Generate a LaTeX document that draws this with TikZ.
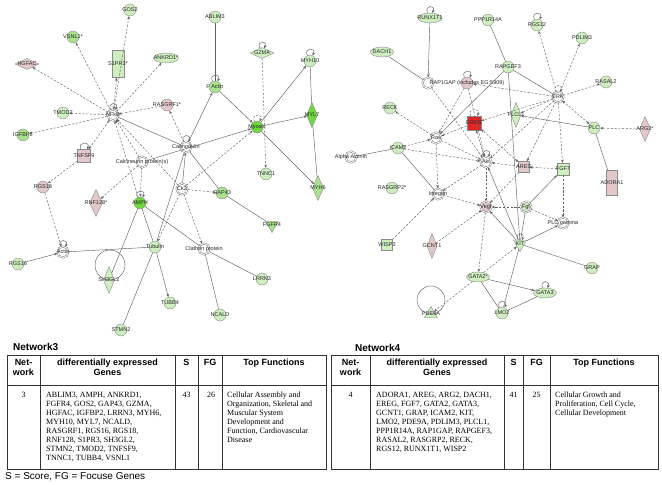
\documentclass[tikz,border=0pt]{standalone}
\usepackage{fontspec}
\setmainfont{Liberation Serif}
\setsansfont{Liberation Sans}
\usepackage{tikz}
\usetikzlibrary{arrows.meta,shapes.geometric}
\definecolor{lgreen}{RGB}{206,238,192}
\definecolor{mgreen}{RGB}{168,226,140}
\definecolor{bgreen}{RGB}{112,216,62}
\definecolor{lpink}{RGB}{226,200,200}
\definecolor{hired}{RGB}{226,38,38}
\colorlet{edgec}{black!62}

\begin{document}
\begin{tikzpicture}[x=1pt, y=-1pt,
    lbl/.style={font=\sffamily\fontsize{5.5}{6}\selectfont, text=black!85, inner sep=0pt},
    txt/.style={label={[lbl]center:#1}},
    base/.style={draw=black!45, line width=0.4pt, inner sep=0pt},
    gn/.style={base, circle, minimum size=12pt, fill=lgreen},
    cx/.style={base, circle, minimum size=11pt, draw=black!60, double=white,
               double distance=0.9pt, fill=white},
    elp/.style={base, ellipse, minimum width=23pt, minimum height=10pt, fill=lgreen},
    dmw/.style={base, diamond, minimum width=24pt, minimum height=11pt, fill=lgreen},
    dmt/.style={base, diamond, minimum width=11pt, minimum height=25pt, fill=lgreen},
    sqr/.style={base, rectangle, minimum size=12pt, fill=lgreen},
    tri/.style={base, regular polygon, regular polygon sides=3, minimum size=15pt, fill=lgreen},
    ln/.style={draw=edgec, line width=0.45pt},
    dl/.style={ln, dash pattern=on 2.2pt off 1.6pt},
    ar/.style={-{Stealth[length=3.2pt, width=2.6pt]}},
    ba/.style={{Stealth[length=3.2pt, width=2.6pt]}-{Stealth[length=3.2pt, width=2.6pt]}},
    sl/.style={ln, ar, out=115, in=65, min distance=9pt, max distance=9pt},
    ttl/.style={font=\sffamily\bfseries\fontsize{10}{12}\selectfont, inner sep=0pt, anchor=west},
    hd/.style={font=\sffamily\bfseries\fontsize{9}{10}\selectfont, align=center, anchor=north, inner sep=0pt},
    bd/.style={font=\fontsize{8}{9}\selectfont, align=left, inner sep=0pt},
    tbl/.style={draw=black!80, line width=0.6pt}
  ]
  \useasboundingbox (0,0) rectangle (662,485);

  % network 3
  \node[gn, txt=GOS2] (gos2) at (130,10) {};
  \node[gn, fill=mgreen, txt=VSNL1*] (vsnl1) at (73,37) {};
  \node[sqr, minimum width=12pt, minimum height=27pt, txt=S1PR3*] (s1pr3) at (118,64) {};
  \node[dmw, fill=lpink, txt=HGFAC] (hgfac) at (27,64) {};
  \node[elp, minimum width=25pt, txt=ANKRD1*] (ankrd1) at (166,58) {};
  \node[gn, txt=TMOD2] (tmod2) at (63,113) {};
  \node[gn, fill=mgreen, txt=IGFBP2] (igfbp2) at (23,135) {};
  \node[cx, txt=NFkB] (nfkb) at (113,115) {};
  \node[gn, fill=lpink, txt=RASGRF1*] (rasgrf1) at (167,105) {};
  \node[sqr, fill=lpink, minimum size=13pt, txt=TNFSF9] (tnfsf9) at (84,156) {};
  \node[gn, txt=ABLIM3] (ablim3) at (215,17) {};
  \node[gn, fill=mgreen, txt=F Actin] (factin) at (215,87) {};
  \node[dmw, txt=GZMA] (gzma) at (262,53) {};
  \node[gn, txt=MYH10] (myh10) at (310,61) {};
  \node[dmt, fill=bgreen, txt=MYL7] (myl7) at (312,115) {};
  \node[gn, fill=bgreen, txt=Myosin] (myosin) at (257,127) {};
  \node[cx, txt=Calmodulin] (calm) at (186,147) {};
  \node[cx, txt=Calcineurin protein(s)] (calcin) at (142,162) {};
  \node[cx, txt=Ck2] (ck2) at (182,189) {};
  \node[gn, fill=mgreen, txt=GAP43] (gap43) at (222,193) {};
  \node[gn, fill=bgreen, txt=AMPH] (amph) at (140,203) {};
  \node[dmt, fill=lpink, minimum width=13pt, minimum height=27pt, txt=RNF128*] (rnf128) at (96,203) {};
  \node[gn, fill=lpink, txt=RGS18] (rgs18) at (43,187) {};
  \node[cx, txt=Actin] (actin) at (63,252) {};
  \node[gn, txt=RGS16] (rgs16) at (18,264) {};
  \node[gn, txt=Tubulin] (tubulin) at (155,247) {};
  \node[dmt, minimum height=27pt, txt=SH3GL2] (sh3gl2) at (109,280) {};
  \node[gn, txt=TUBB4] (tubb4) at (170,303) {};
  \node[gn, txt=TNNC1] (tnnc1) at (266,174) {};
  \node[dmt, fill=mgreen, txt=MYH6] (myh6) at (318,188) {};
  \node[tri, fill=mgreen, shape border rotate=180, txt=FGFR4] (fgfr4) at (272,225) {};
  \node[cx, txt=Clathrin protein] (clath) at (204,249) {};
  \node[gn, txt=LRRN3] (lrrn3) at (262,279) {};
  \node[gn, txt=NCALD] (ncald) at (220,315) {};
  \node[gn, txt=STMN2] (stmn2) at (121,330) {};

  \foreach \a/\b in {calm/factin, factin/myosin, calcin/myosin, myosin/myh10,
      myosin/myl7, myosin/myh6, rgs16/actin, tubulin/tubb4, ck2/calm}
    \draw[ln, ar] (\a) -- (\b);
  \foreach \a/\b in {ablim3/factin, myh10/myl7, myl7/myh6, amph/sh3gl2, amph/tubulin,
      amph/clath, clath/lrrn3, actin/tubulin, calm/tubulin, tubulin/stmn2,
      gap43/fgfr4, clath/ncald, calm/gap43, nfkb/calm}
    \draw[ln] (\a) -- (\b);
  \foreach \a/\b in {nfkb/gos2, nfkb/vsnl1, nfkb/hgfac, nfkb/ankrd1, nfkb/tmod2,
      nfkb/igfbp2, rasgrf1/nfkb, tnfsf9/rgs18, rgs18/actin, calm/rasgrf1,
      calcin/nfkb, ck2/nfkb, amph/nfkb, calcin/rnf128, calcin/amph, ck2/gap43,
      ck2/clath, ck2/myosin, gzma/tnnc1, ck2/tubulin}
    \draw[dl, ar] (\a) -- (\b);
  \foreach \a/\b in {nfkb/tnfsf9, s1pr3/nfkb}
    \draw[dl, ba] (\a) -- (\b);

  % network 4
  \node[elp, minimum width=24pt, txt=RUNX1T1] (runx) at (430,18) {};
  \node[elp, txt=DACH1] (dach1) at (382,52) {};
  \node[gn, txt=PPP1R14A] (ppp1) at (488,20) {};
  \node[gn, txt=RGS12] (rgs12) at (537,25) {};
  \node[gn, txt=PDLIM3] (pdlim3) at (582,38) {};
  \node[gn, txt=RAPGEF3] (rapgef3) at (508,67) {};
  \node[gn, txt=RASAL2] (rasal2) at (606,82) {};
  \node[cx] (raps) at (428,83) {};
  \node[gn, fill=lpink, txt=RAP1GAP (includes EG:5909)] (rap1gap) at (467,83) {};
  \node[cx, txt=ERK] (erk) at (558,97) {};
  \node[gn, txt=RECK] (reck) at (390,108) {};
  \node[sqr, fill=hired, minimum size=14pt, txt=EREG] (ereg) at (474,123) {};
  \node[dmt, minimum width=10pt, txt=PLCL1] (plcl1) at (516,115) {};
  \node[gn, txt=PLC] (plc) at (594,128) {};
  \node[dmt, fill=lpink, txt=ARG2*] (arg2) at (645,129) {};
  \node[cx, txt=Ras] (ras) at (436,138) {};
  \node[gn, txt=ICAM2] (icam2) at (398,148) {};
  \node[cx, txt=Alpha Actinin] (alpha) at (351,157) {};
  \node[cx, txt=Akt] (akt) at (486,162) {};
  \node[sqr, fill=lpink, minimum size=11pt, txt=AREG] (areg) at (524,167) {};
  \node[sqr, txt=FGF7] (fgf7) at (563,169) {};
  \node[sqr, fill=lpink, minimum width=11pt, minimum height=25pt, txt=ADORA1] (adora1) at (612,183) {};
  \node[gn, txt=RASGRP2*] (rasgrp2) at (392,188) {};
  \node[cx, txt=Integrin] (integ) at (438,194) {};
  \node[cx, fill=lpink, txt=Vegf] (vegf) at (486,207) {};
  \node[cx, fill=lgreen, txt=Fgf] (fgf) at (526,207) {};
  \node[cx, txt=PLC gamma] (plcg) at (563,223) {};
  \node[tri, shape border rotate=180, txt=KIT] (kit) at (520,244) {};
  \node[sqr, minimum size=11pt, txt=WISP2] (wisp2) at (387,245) {};
  \node[dmt, fill=lpink, minimum width=10pt, txt=GCNT1] (gcnt1) at (432,246) {};
  \node[gn, txt=GRAP] (grap) at (592,268) {};
  \node[elp, txt=GATA2*] (gata2) at (478,277) {};
  \node[elp, txt=GATA3] (gata3) at (545,293) {};
  \node[gn, txt=LMO2] (lmo2) at (502,313) {};
  \node[tri, txt=PDE9A] (pde9a) at (431,314) {};

  \foreach \a/\b in {runx/raps, rapgef3/ras, plc/plcl1, fgf/fgf7, kit/plcg,
      gata2/gata3, kit/vegf, kit/akt}
    \draw[ln, ar] (\a) -- (\b);
  \foreach \a/\b in {dach1/raps, ppp1/rapgef3, rapgef3/erk, rapgef3/kit, adora1/plc,
      alpha/icam2, icam2/integ, kit/grap, lmo2/kit, lmo2/gata3, gata2/lmo2, fgf/kit}
    \draw[ln] (\a) -- (\b);
  \foreach \a/\b in {erk/rgs12, erk/pdlim3, erk/rasal2, erk/rap1gap, erk/plcl1,
      arg2/plc, erk/ereg, erk/areg, erk/fgf7, rap1gap/ras, rap1gap/akt, ereg/ras,
      areg/akt, ras/reck, ras/integ, ras/akt, icam2/ras, icam2/akt, akt/integ,
      integ/vegf, akt/vegf, wisp2/integ, gcnt1/vegf, vegf/gata2, gata2/pde9a,
      fgf7/plcg, fgf/plcg, fgf/vegf, fgf7/areg, areg/vegf, gata2/kit, raps/akt, erk/akt}
    \draw[dl, ar] (\a) -- (\b);
  \foreach \a/\b in {plc/erk, ereg/akt, areg/ereg}
    \draw[dl, ba] (\a) -- (\b);

  % self loops
  \foreach \n in {nfkb, calm, tnfsf9, actin, factin, gzma, myh10, amph,
      runx, rap1gap, rgs12, kit, gata3, lmo2, akt}
    \draw[sl] (\n) to (\n);
  \foreach \n in {myosin, ereg, erk}
    \draw[sl, dash pattern=on 2pt off 1.5pt] (\n) to (\n);
  \draw[ln] (110,265) circle[radius=15pt];
  \draw[ln] (431,300) circle[radius=14pt];

  % table network 3
  \node[ttl] (t3) at (13,347) {Network3};
  \draw[tbl] (7,355) rectangle (326,469);
  \draw[tbl] (7,385) -- (326,385);
  \foreach \x in {40,175,198,222}
    \draw[tbl] (\x,355) -- (\x,469);
  \node[hd] (h3a) at (23.5,359) {Net-\\work};
  \node[hd] (h3b) at (107.5,359) {differentially expressed\\Genes};
  \node[hd] (h3c) at (186.5,359) {S};
  \node[hd] (h3d) at (210,359) {FG};
  \node[hd] (h3e) at (274,359) {Top Functions};
  \node[bd, anchor=north] (b3a) at (23.5,392) {3};
  \node[bd, anchor=north west] (b3b) at (46,392)
    {ABLIM3, AMPH, ANKRD1,\\ FGFR4, GOS2, GAP43, GZMA,\\ HGFAC, IGFBP2, LRRN3, MYH6,\\
     MYH10, MYL7, NCALD,\\ RASGRF1, RGS16, RGS18,\\ RNF128, S1PR3, SH3GL2,\\
     STMN2, TMOD2, TNFSF9,\\ TNNC1, TUBB4, VSNL1};
  \node[bd, anchor=north] (b3c) at (186.5,392) {43};
  \node[bd, anchor=north] (b3d) at (211,392) {26};
  \node[bd, anchor=north west] (b3e) at (227,392)
    {Cellular Assembly and\\ Organization, Skeletal and\\ Muscular System\\
     Development and\\ Function, Cardiovascular\\ Disease};

  % table network 4
  \node[ttl] (t4) at (355,348) {Network4};
  \draw[tbl] (331,355) rectangle (658,469);
  \draw[tbl] (331,385) -- (658,385);
  \foreach \x in {370,504,523,550}
    \draw[tbl] (\x,355) -- (\x,469);
  \node[hd] (h4a) at (350.5,359) {Net-\\work};
  \node[hd] (h4b) at (437,359) {differentially expressed\\Genes};
  \node[hd] (h4c) at (513.5,359) {S};
  \node[hd] (h4d) at (536.5,359) {FG};
  \node[hd] (h4e) at (604,359) {Top Functions};
  \node[bd, anchor=north] (b4a) at (350.5,392) {4};
  \node[bd, anchor=north west] (b4b) at (376,392)
    {ADORA1, AREG, ARG2, DACH1,\\ EREG, FGF7, GATA2, GATA3,\\ GCNT1, GRAP, ICAM2, KIT,\\
     LMO2, PDE9A, PDLIM3, PLCL1,\\ PPP1R14A, RAP1GAP, RAPGEF3,\\ RASAL2, RASGRP2, RECK,\\
     RGS12, RUNX1T1, WISP2};
  \node[bd, anchor=north] (b4c) at (513.5,392) {41};
  \node[bd, anchor=north] (b4d) at (536.5,392) {25};
  \node[bd, anchor=north west] (b4e) at (555,392)
    {Cellular Growth and\\ Proliferation, Cell Cycle,\\ Cellular Development};

  \node[font=\sffamily\fontsize{10}{12}\selectfont, inner sep=0pt, anchor=west] (foot) at (5,477)
    {S = Score, FG = Focuse Genes};
\end{tikzpicture}
\end{document}
